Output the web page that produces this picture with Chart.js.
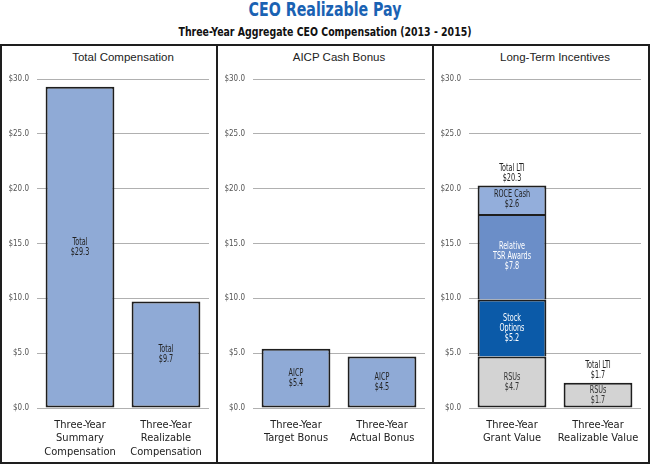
<!DOCTYPE html>
<html>
<head>
<meta charset="utf-8">
<script src="https://cdn.jsdelivr.net/npm/chart.js@4.4.0/dist/chart.umd.min.js"></script>
<style>
body { margin: 0; width: 650px; height: 465px; background: #fff; position: relative; overflow: hidden; font-family: "Liberation Sans", Arial, sans-serif; }
#title { position: absolute; top: -1px; left: 0; width: 650px; text-align: center; font: bold 20px "DejaVu Sans Condensed", sans-serif; color: #1a62b3; line-height: 20px; transform: scaleX(0.79); }
#subtitle { position: absolute; top: 25px; left: 0; width: 650px; text-align: center; font: bold 12px "DejaVu Sans Condensed", sans-serif; color: #111; line-height: 14px; transform: scaleX(0.87); }
#frame { position: absolute; left: 0; top: 44px; width: 650px; height: 420px; border: 2px solid #1e1e1e; box-sizing: border-box; }
.divider { position: absolute; top: 44px; width: 2px; height: 420px; background: #1e1e1e; }
.ptitle { position: absolute; top: 50px; width: 172px; text-align: center; font-size: 11.5px; color: #222; line-height: 14px; }
canvas { position: absolute; }
</style>
</head>
<body>
<div id="title">CEO Realizable Pay</div>
<div id="subtitle">Three-Year Aggregate CEO Compensation (2013 - 2015)</div>
<div id="frame"></div>
<div class="divider" style="left:216px"></div>
<div class="divider" style="left:432px"></div>
<div class="ptitle" style="left:37px">Total Compensation</div>
<div class="ptitle" style="left:253px">AICP Cash Bonus</div>
<div class="ptitle" style="left:469px">Long-Term Incentives</div>
<canvas id="c1" width="214" height="395" style="left:2px;top:66px"></canvas>
<canvas id="c2" width="214" height="395" style="left:218px;top:66px"></canvas>
<canvas id="c3" width="214" height="395" style="left:434px;top:66px"></canvas>
<script>
// DATA (bar heights as drawn in the picture, $ millions)

const totalCategories = [['Three-Year', 'Summary', 'Compensation'], ['Three-Year', 'Realizable', 'Compensation']];
const totalValues = [29.3, 9.7];
const totalLabels = [['Total', '$29.3'], ['Total', '$9.7']];

const aicpCategories = [['Three-Year', 'Target Bonus'], ['Three-Year', 'Actual Bonus']];
const aicpValues = [5.4, 4.7];
const aicpLabels = [['AICP', '$5.4'], ['AICP', '$4.5']];

const ltiCategories = [['Three-Year', 'Grant Value'], ['Three-Year', 'Realizable Value']];
const rsuValues = [4.7, 2.3];
const optionValues = [5.2, null];
const tsrValues = [7.8, null];
const roceValues = [2.6, null];
const rsuLabels = [['RSUs', '$4.7'], ['RSUs', '$1.7']];
const optionLabels = [['Stock', 'Options', '$5.2'], null];
const tsrLabels = [['Relative', 'TSR Awards', '$7.8'], null];
const roceLabels = [['ROCE Cash', '$2.6'], null];
const ltiTotals = [['Total LTI', '$20.3'], ['Total LTI', '$1.7']];

const yTicks = [0, 5, 10, 15, 20, 25, 30];

//==================================
// HELPERS
//==================================

const NARROW = '"DejaVu Sans Condensed", sans-serif';
const LIGHT_BLUE = '#8faad6';
const EDGE = '#1e1e1e';

// squeezed text, the picture uses a condensed face
function squeezed(ctx, t, x, y) {
	ctx.save();
	ctx.translate(x, y);
	ctx.scale(0.72, 1);
	ctx.fillText(t, 0, 0);
	ctx.restore();
}

// writes the little labels inside bars, and totals on top
const barText = {
	id: 'barText',
	afterDatasetsDraw(chart) {
		const ctx = chart.ctx;
		ctx.save();
		ctx.font = '10px ' + NARROW;
		ctx.textAlign = 'center';
		ctx.textBaseline = 'middle';
		chart.data.datasets.forEach((ds, i) => {
			const meta = chart.getDatasetMeta(i);
			meta.data.forEach((bar, j) => {
				const lines = ds.inner && ds.inner[j];
				if (!lines) return;
				const mid = (bar.y + bar.base) / 2;
				ctx.fillStyle = ds.textColor || '#222';
				lines.forEach((t, k) => {
					squeezed(ctx, t, bar.x, mid + (k - (lines.length - 1) / 2) * 10);
				});
			});
		});
		const totals = chart.options.plugins.barText.totals;
		if (totals) {
			const last = chart.data.datasets.length - 1;
			totals.forEach((lines, j) => {
				// find top of stack
				let top = null, x = null;
				for (let i = last; i >= 0; i--) {
					const bar = chart.getDatasetMeta(i).data[j];
					if (chart.data.datasets[i].data[j] != null) { top = bar.y; x = bar.x; break; }
				}
				ctx.fillStyle = '#222';
				lines.forEach((t, k) => {
					squeezed(ctx, t, x, top - 7 - (lines.length - 1 - k) * 10);
				});
			});
		}
		ctx.restore();
	}
};

function makeOptions(stacked, totals) {
	return {
		responsive: false,
		animation: false,
		layout: { padding: { top: 13, right: 7, left: 0, bottom: 0 } },
		plugins: {
			legend: { display: false },
			tooltip: { enabled: false },
			barText: { totals: totals },
		},
		scales: {
			x: {
				stacked: stacked,
				grid: { display: false },
				border: { display: false },
				ticks: { font: { family: NARROW, size: 11, lineHeight: 1.23 }, color: '#222', padding: 2, maxRotation: 0, autoSkip: false },
				afterFit: s => { s.height = 53; },
			},
			y: {
				stacked: stacked,
				min: 0,
				max: 30,
				afterBuildTicks: s => { s.ticks = yTicks.map(v => ({ value: v })); },
				ticks: { font: { family: NARROW, size: 8 }, color: '#555', padding: 8, callback: v => '$' + v.toFixed(1) },
				grid: { color: '#b0b0b0', lineWidth: 1, drawTicks: false },
				border: { display: false },
				afterFit: s => { s.width = 35; },
			},
		},
	};
}

function bar(data, color, inner, textColor, bottomEdge) {
	return {
		data: data,
		backgroundColor: color,
		borderColor: EDGE,
		borderWidth: { top: 2, left: 2, right: 2, bottom: bottomEdge ? 2 : 0 },
		borderSkipped: false,
		barPercentage: 0.8,
		categoryPercentage: 1,
		inner: inner,
		textColor: textColor,
	};
}

//==================================
// CHARTS
//==================================

new Chart(document.getElementById('c1').getContext('2d'), {
	type: 'bar',
	data: { labels: totalCategories, datasets: [bar(totalValues, LIGHT_BLUE, totalLabels, '#222', true)] },
	options: makeOptions(false, null),
	plugins: [barText],
});

new Chart(document.getElementById('c2').getContext('2d'), {
	type: 'bar',
	data: { labels: aicpCategories, datasets: [bar(aicpValues, LIGHT_BLUE, aicpLabels, '#222', true)] },
	options: makeOptions(false, null),
	plugins: [barText],
});

new Chart(document.getElementById('c3').getContext('2d'), {
	type: 'bar',
	data: {
		labels: ltiCategories,
		datasets: [
			bar(rsuValues, '#d3d3d3', rsuLabels, '#333', true),
			bar(optionValues, '#0b5aa8', optionLabels, '#fff', false),
			bar(tsrValues, '#6b8ec8', tsrLabels, '#fff', false),
			bar(roceValues, '#93aedb', roceLabels, '#222', false),
		],
	},
	options: makeOptions(true, ltiTotals),
	plugins: [barText],
});
</script>
</body>
</html>
